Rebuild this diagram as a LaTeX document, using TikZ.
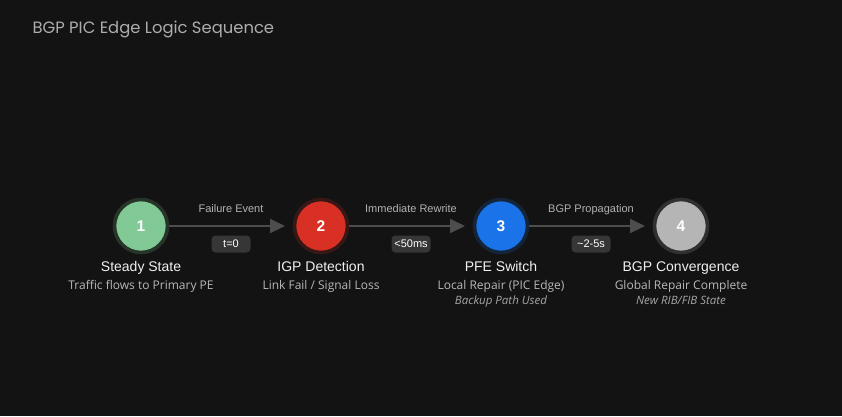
\documentclass[tikz,border=0pt]{standalone}
\usepackage{fontspec}
\setmainfont{Open Sans}
\newfontfamily\titlefont{Poppins}
\newfontfamily\headfont{Liberation Sans}
\usetikzlibrary{arrows.meta}

\definecolor{bg}{HTML}{131313}
\definecolor{stepgreen}{HTML}{81C995}
\definecolor{stepred}{HTML}{D93025}
\definecolor{stepblue}{HTML}{1A73E8}
\definecolor{stepgray}{HTML}{B5B5B5}
\definecolor{linegray}{HTML}{4D4D4D}

\tikzset{
  stage/.style = {circle, minimum size=53pt, inner sep=0pt, line width=3.6pt,
    fill=#1, draw=#1!18!bg, text=white, font=\headfont\fontsize{15.5}{18}\selectfont\bfseries},
  flow/.style = {draw=linegray, line width=2pt, shorten >=7.7pt,
    -{Triangle[length=15pt,width=14pt]}},
  evt/.style = {text=white!70!black, font=\headfont\fontsize{11}{13}\selectfont, anchor=base},
  timebox/.style = {fill=white!15!bg, rounded corners=4pt, minimum width=39pt, minimum height=17pt,
    inner sep=0pt, text=white, font=\headfont\fontsize{11}{13}\selectfont},
  head/.style = {text=white!94!black, font=\headfont\fontsize{14}{17}\selectfont, anchor=base},
  sub/.style = {text=white!72!black, font=\fontsize{12}{14}\selectfont, anchor=base},
  note/.style = {text=white!65!black, font=\fontsize{11.5}{13}\selectfont\itshape, anchor=base}
}

\begin{document}
\begin{tikzpicture}[x=1pt, y=-1pt]
\fill[bg] (0,0) rectangle (842,416);
\useasboundingbox (0,0) rectangle (842,416);

\node [anchor=base west, text=white!68!black, font=\titlefont\fontsize{16.4}{20}\selectfont] (title) at (29,33) {BGP PIC Edge Logic Sequence};

% the four stages
\node [stage=stepgreen] (s1) at (141,226) {1};
\node [stage=stepred] (s2) at (321,226) {2};
\node [stage=stepblue] (s3) at (501,226) {3};
\node [stage=stepgray] (s4) at (681,226) {4};

% transitions
\draw [flow] (s1) -- node [evt, yshift=14pt] (e1) {Failure Event} node [timebox, yshift=-18pt] (b1) {t=0} (s2);
\draw [flow] (s2) -- node [evt, yshift=14pt] (e2) {Immediate Rewrite} node [timebox, yshift=-18pt] (b2) {<50ms} (s3);
\draw [flow] (s3) -- node [evt, yshift=14pt] (e3) {BGP Propagation} node [timebox, yshift=-18pt] (b3) {\textasciitilde2-5s} (s4);

% captions
\node [head] (h1) at ([yshift=-45pt]s1.center) {Steady State};
\node [sub] (d1) at ([yshift=-18pt]h1.base) {Traffic flows to Primary PE};

\node [head] (h2) at ([yshift=-45pt]s2.center) {IGP Detection};
\node [sub] (d2) at ([yshift=-18pt]h2.base) {Link Fail / Signal Loss};

\node [head] (h3) at ([yshift=-45pt]s3.center) {PFE Switch};
\node [sub] (d3) at ([yshift=-18pt]h3.base) {Local Repair (PIC Edge)};
\node [note] (n3) at ([yshift=-15pt]d3.base) {Backup Path Used};

\node [head] (h4) at ([yshift=-45pt]s4.center) {BGP Convergence};
\node [sub] (d4) at ([yshift=-18pt]h4.base) {Global Repair Complete};
\node [note] (n4) at ([yshift=-15pt]d4.base) {New RIB/FIB State};
\end{tikzpicture}
\end{document}
